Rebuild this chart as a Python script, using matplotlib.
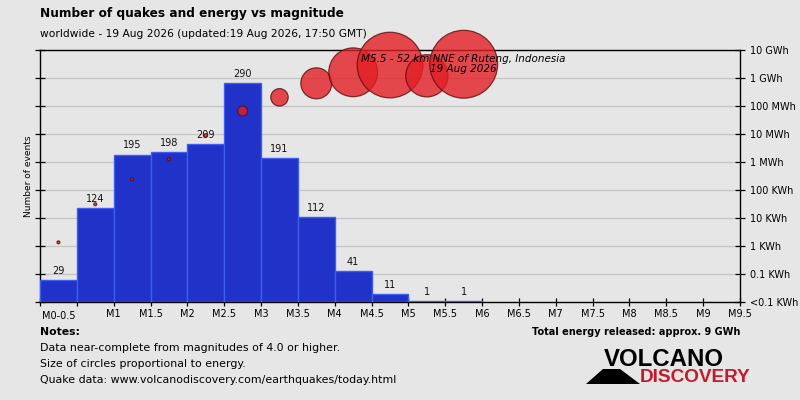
import numpy as np
import matplotlib.pyplot as plt
from matplotlib.patches import Polygon

# ---- data ----
BIN_LEFT = np.arange(0, 6, 0.5)            # M0-0.5 ... M5.5-6
COUNTS = [29, 124, 195, 198, 209, 290, 191, 112, 41, 11, 1, 1]
ENERGY_KWH = [1.35, 31, 240, 1.26e3, 8.9e3, 6.6e4, 2.04e5, 6.45e5,
              1.6e6, 2.9e6, 1.2e6, 3.1e6]
X_TICKS = np.arange(0, 10, 0.5)
X_LABELS = ['', ''] + [f'M{v:g}' for v in X_TICKS[2:]]
E_TICKS = [1e-2, 1e-1, 1, 10, 100, 1e3, 1e4, 1e5, 1e6, 1e7]
E_LABELS = ['<0.1 KWh', '0.1 KWh', '1 KWh', '10 KWh', '100 KWh',
            '1 MWh', '10 MWh', '100 MWh', '1 GWh', '10 GWh']
NOTE_LINES = ['Data near-complete from magnitudes of 4.0 or higher.',
              'Size of circles proportional to energy.',
              'Quake data: www.volcanodiscovery.com/earthquakes/today.html']

BG = '#e6e6e6'
BAR_FACE = '#2032c8'
BAR_EDGE = '#3d5cf0'
CIRC_FACE = '#e31e24'
CIRC_EDGE = '#5a1010'

plt.rcParams['font.family'] = ['DejaVu Sans']

W, H = 800, 400
fig = plt.figure(figsize=(8, 4), dpi=100, facecolor=BG)


def fx(px):
    return px / W


def fy(py):
    return 1 - py / H


rect = [fx(40), fy(302), fx(740) - fx(40), fy(50) - fy(302)]

# back axis: energy scale + grid; middle: counts; front: circles
ax_e = fig.add_axes(rect)
ax_n = ax_e.twinx()
ax_c = ax_e.twinx()

ax_e.set_facecolor(BG)
ax_e.set_yscale('log')
ax_e.set_ylim(1e-2, 1e7)
ax_e.set_xlim(0, 9.5)
ax_e.set_yticks(E_TICKS)
ax_e.set_yticklabels(E_LABELS)
ax_e.minorticks_off()
ax_e.yaxis.set_ticks_position('both')
ax_e.tick_params(axis='y', which='major', direction='inout', length=7, width=0.9,
                 left=True, right=True, labelleft=False, labelright=True,
                 labelsize=7, pad=4)
ax_e.grid(axis='y', color='#c4c4c4', lw=0.9)
ax_e.set_xticks(X_TICKS)
ax_e.set_xticklabels(X_LABELS)
ax_e.tick_params(axis='x', direction='inout', length=6, width=0.9, labelsize=7, pad=2)
ax_e.text(0.25, -0.035, 'M0-0.5', transform=ax_e.get_xaxis_transform(),
          ha='center', va='top', fontsize=7)
for s in ['top', 'left', 'right', 'bottom']:
    ax_e.spines[s].set_linewidth(1.0)
fig.text(fx(29), fy(176), 'Number of events', rotation=90, fontsize=6.5,
         ha='center', va='center')

ax_n.set_ylim(0, max(COUNTS) * 1.15)
ax_n.axis('off')
ax_n.bar(BIN_LEFT, COUNTS, width=0.5, align='edge', color=BAR_FACE,
         edgecolor=BAR_EDGE, lw=1.0, zorder=2)
for x, c in zip(BIN_LEFT, COUNTS):
    ax_n.annotate(str(c), (x + 0.25, c), xytext=(0, 3), textcoords='offset points',
                  ha='center', va='bottom', fontsize=7, color='#111111', zorder=3)

ax_c.set_yscale('log')
ax_c.set_ylim(1e-2, 1e7)
ax_c.axis('off')
energy = np.array(ENERGY_KWH)
sizes = np.maximum(0.77 * energy / 1000, 4.5)
ax_c.scatter(BIN_LEFT + 0.25, energy, s=sizes, facecolor=CIRC_FACE, alpha=0.8,
             edgecolor=CIRC_EDGE, lw=0.9, clip_on=False, zorder=4)
ax_c.annotate('M5.5 - 52 km NNE of Ruteng, Indonesia\n19 Aug 2026',
              (BIN_LEFT[-1] + 0.25, 1 - 14 / 252), xycoords=('data', 'axes fraction'),
              ha='center', va='center', fontsize=7.5, style='italic',
              linespacing=1.05, zorder=5, annotation_clip=False)

# texts around the chart
fig.text(fx(40), fy(13), 'Number of quakes and energy vs magnitude',
         fontsize=8.7, fontweight='bold', ha='left', va='center')
fig.text(fx(40), fy(34), 'worldwide - 19 Aug 2026 (updated:19 Aug 2026, 17:50 GMT)',
         fontsize=7.7, ha='left', va='center')
fig.text(fx(40), fy(332), 'Notes:', fontsize=7.8, fontweight='bold', ha='left', va='center')
for i, line in enumerate(NOTE_LINES):
    fig.text(fx(40), fy(348 + 16 * i), line, fontsize=7.9, ha='left', va='center')
fig.text(fx(740), fy(332), 'Total energy released: approx. 9 GWh',
         fontsize=7.0, fontweight='bold', ha='right', va='center')

# logo
fig.text(fx(604), fy(359), 'VOLCANO', fontsize=17.3, fontweight='bold',
         family='Liberation Sans', ha='left', va='center', color='black')
fig.text(fx(640), fy(377), 'DISCOVERY', fontsize=13.7, fontweight='bold',
         family='Liberation Sans', ha='left', va='center', color='#c41a2a')
mountain = [(fx(586), fy(384)), (fx(603), fy(369)), (fx(620), fy(369)), (fx(640), fy(384))]
fig.patches.append(Polygon(mountain, closed=True, transform=fig.transFigure,
                           facecolor='black', edgecolor='none'))

fig.savefig('out.png', dpi=100, facecolor=BG)
